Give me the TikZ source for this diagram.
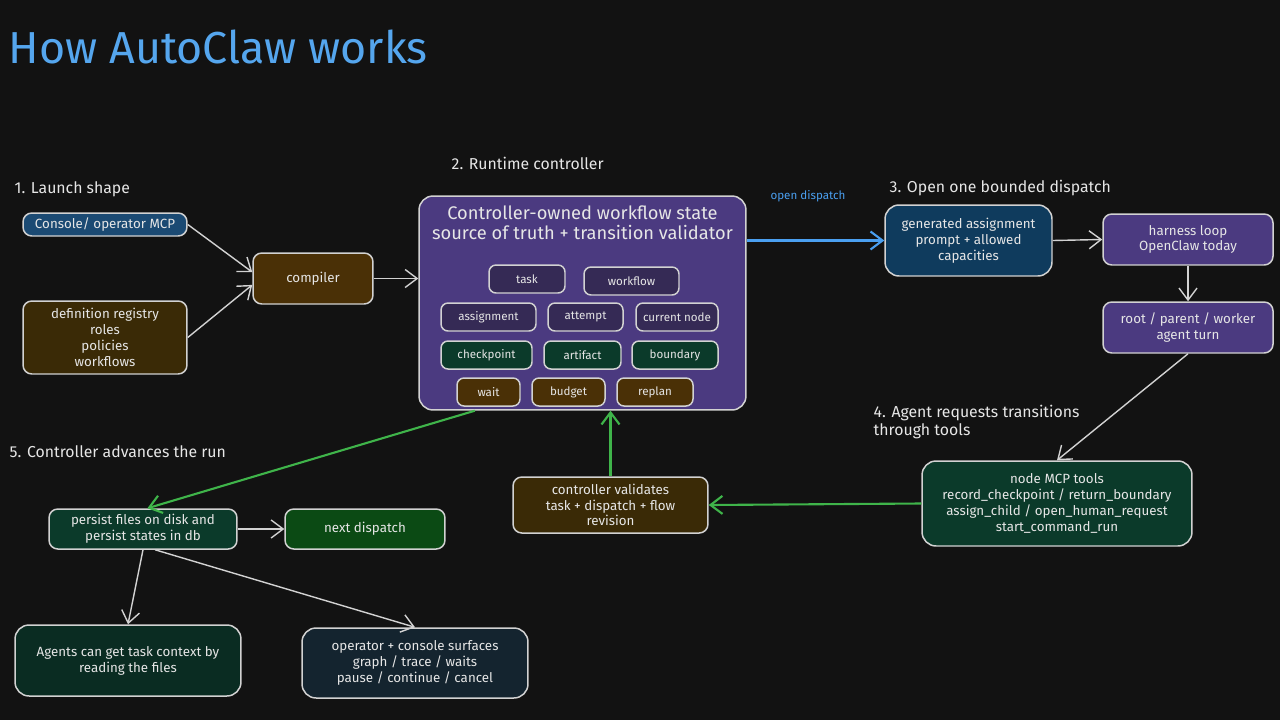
\documentclass[tikz,border=0pt]{standalone}
\usepackage{fontspec}
\setmainfont{Fira Sans}
\usetikzlibrary{arrows.meta,calc,positioning}
\definecolor{bg}{HTML}{121212}
\definecolor{ink}{HTML}{E6E6E6}
\definecolor{rim}{HTML}{D2D2D2}
\definecolor{titleblue}{HTML}{55A6EE}
\definecolor{flowblue}{HTML}{4A9FF0}
\definecolor{flowgreen}{HTML}{3FB44A}
\definecolor{seablue}{HTML}{1B4A73}
\definecolor{deepblue}{HTML}{0F3B5D}
\definecolor{navy}{HTML}{14242F}
\definecolor{brown}{HTML}{4A3006}
\definecolor{darkbrown}{HTML}{3A2A06}
\definecolor{violet}{HTML}{4B3A80}
\definecolor{darkviolet}{HTML}{352A55}
\definecolor{pine}{HTML}{0B3A2A}
\definecolor{darkpine}{HTML}{0A2C22}
\definecolor{leaf}{HTML}{0B4A14}
\tikzset{
flow/.style={>={Straight Barb[length=2.4mm,width=3.6mm]},line width=0.8pt,
draw=rim,text=ink},
card/.style={draw=rim,rounded corners=5pt,line width=0.85pt,text=ink,
align=center,inner sep=2pt,font=\fontsize{7.6}{9}\selectfont},
chip/.style={card,rounded corners=4pt,minimum height=0.56cm,
font=\fontsize{6.6}{8}\selectfont},
heading/.style={text=ink,anchor=west,inner sep=0pt,
font=\fontsize{9}{10.8}\selectfont,align=left},
greenflow/.style={->,draw=flowgreen,line width=1.2pt},
blueflow/.style={->,draw=flowblue,line width=1.2pt},
}
\begin{document}
\begin{tikzpicture}[flow,x=0.02cm,y=-0.02cm]
\fill[bg] (0,0) rectangle (1280,720);
\useasboundingbox (0,0) rectangle (1280,720);

\node[text=titleblue,anchor=west,inner sep=0pt,font=\fontsize{25.5}{28}\selectfont] (title) at (8,47) {How AutoClaw works};

\node[heading] (h1) at (14,189) {1. Launch shape};
\node[heading] (h2) at (451,163) {2. Runtime controller};
\node[heading] (h3) at (889,188) {3. Open one bounded dispatch};
\node[heading] (h4) at (873,422) {4. Agent requests transitions\\through tools};
\node[heading] (h5) at (9,452) {5. Controller advances the run};

\node[card,fill=seablue,minimum width=3.28cm,minimum height=0.46cm] (console) at (105,224.5) {Console/ operator MCP};
\node[card,fill=darkbrown,minimum width=3.28cm,minimum height=1.46cm] (defreg) at (105,337.5) {definition registry\\roles\\policies\\workflows};
\node[card,fill=brown,minimum width=2.4cm,minimum height=1.02cm] (compiler) at (313,278.5) {compiler};

\node[card,fill=violet,minimum width=6.54cm,minimum height=4.28cm,rounded corners=8pt] (ctrl) at (582.5,303) {};
\node[text=ink,align=center,font=\fontsize{10.4}{11.6}\selectfont] (ctrltitle) at (582.5,223) {Controller-owned workflow state\\source of truth + transition validator};
\node[chip,fill=darkviolet,minimum width=1.52cm] (task) at (527,279) {task};
\node[chip,fill=darkviolet,minimum width=1.9cm] (workflow) at (631.5,281) {workflow};
\node[chip,fill=darkviolet,minimum width=1.9cm] (assignment) at (488.5,317) {assignment};
\node[chip,fill=darkviolet,minimum width=1.5cm] (attempt) at (585.5,317) {attempt};
\node[chip,fill=darkviolet,minimum width=1.64cm] (curnode) at (677,317) {current node};
\node[chip,fill=pine,minimum width=1.82cm] (checkpoint) at (486.5,355) {checkpoint};
\node[chip,fill=pine,minimum width=1.54cm] (artifact) at (582.5,355) {artifact};
\node[chip,fill=pine,minimum width=1.72cm] (boundary) at (675,355) {boundary};
\node[chip,fill=brown,minimum width=1.26cm] (wait) at (488.5,392) {wait};
\node[chip,fill=brown,minimum width=1.46cm] (budget) at (568.5,392) {budget};
\node[chip,fill=brown,minimum width=1.52cm] (replan) at (655,392) {replan};

\node[text=flowblue,font=\fontsize{6.6}{8}\selectfont] (opendisp) at (808,196) {open dispatch};
\node[card,fill=deepblue,minimum width=3.34cm,minimum height=1.42cm,rounded corners=8pt] (gen) at (968.5,240.5) {generated assignment\\prompt + allowed\\capacities};
\node[card,fill=violet,minimum width=3.4cm,minimum height=1.02cm] (harness) at (1188,239.5) {harness loop\\OpenClaw today};
\node[card,fill=violet,minimum width=3.4cm,minimum height=1.02cm] (agentturn) at (1188,327.5) {root / parent / worker\\agent turn};
\node[card,fill=pine,minimum width=5.4cm,minimum height=1.7cm,rounded corners=8pt] (mcptools) at (1057,503.5) {node MCP tools\\record\_checkpoint / return\_boundary\\assign\_child / open\_human\_request\\start\_command\_run};
\node[card,fill=darkbrown,minimum width=3.9cm,minimum height=1.12cm] (validates) at (610.5,505) {controller validates\\task + dispatch + flow\\revision};

\node[card,fill=pine,minimum width=3.76cm,minimum height=0.8cm] (persist) at (143,529) {persist files on disk and\\persist states in db};
\node[card,fill=leaf,minimum width=3.2cm,minimum height=0.8cm] (nextdisp) at (365,529) {next dispatch};
\node[card,fill=darkpine,minimum width=4.52cm,minimum height=1.42cm,rounded corners=8pt] (agents) at (128,660.5) {Agents can get task context by\\reading the files};
\node[card,fill=navy,minimum width=4.52cm,minimum height=1.4cm,rounded corners=8pt] (operator) at (415,663) {operator + console surfaces\\graph / trace / waits\\pause / continue / cancel};

\path[->] (console.east) edge (compiler.174)
          (defreg.east) edge (compiler.186)
          (compiler.east) edge (compiler.east -| ctrl.west)
          (gen.east) edge (harness.west)
          (harness.south) edge (agentturn.north)
          (agentturn.south) edge (mcptools.north)
          (persist.east) edge (nextdisp.west)
          (persist.south) edge (agents.north)
          (persist.-60) edge (operator.north);
\draw[blueflow] (ctrl.east |- gen.west) -- (gen.west);
\draw[greenflow] (mcptools.west) -- (validates.east);
\draw[greenflow] (validates.north) -- (validates.north |- ctrl.south);
\draw[greenflow] (ctrl.225) -- (persist.78);
\end{tikzpicture}
\end{document}
